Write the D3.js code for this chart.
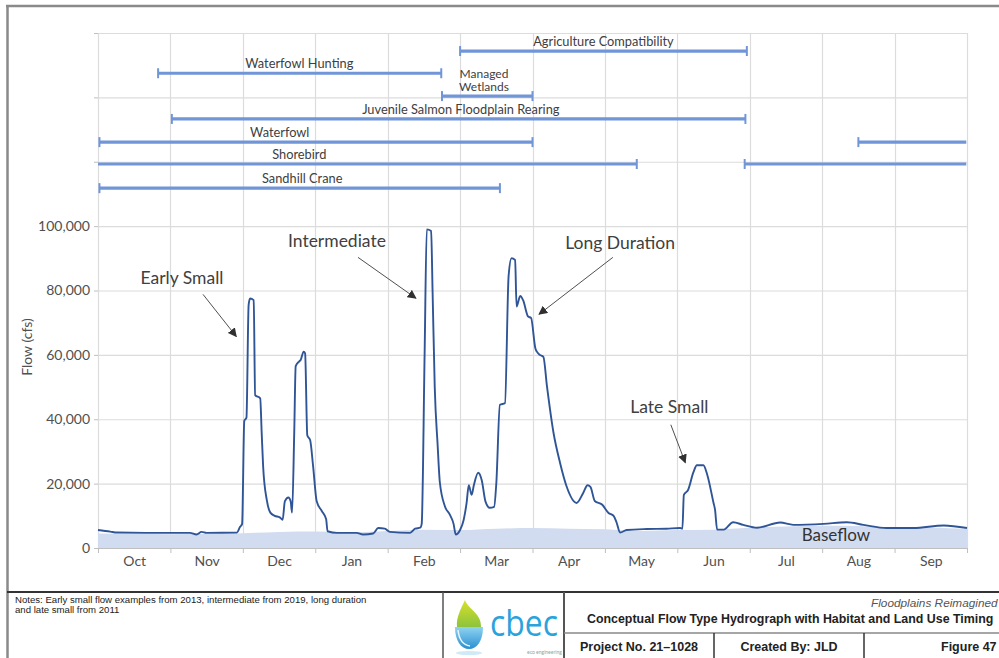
<!DOCTYPE html>
<html><head><meta charset="utf-8">
<script src="https://cdn.jsdelivr.net/npm/d3@7/dist/d3.min.js"></script>
<style>body{margin:0;background:#fff}svg{display:block}</style>
</head><body>
<svg id="c" width="999" height="658"></svg>
<script>
// ---------- data ----------
const months = ["Oct","Nov","Dec","Jan","Feb","Mar","Apr","May","Jun","Jul","Aug","Sep"];
const yTickValues = [0,20000,40000,60000,80000,100000,120000,140000,160000];
const yLabelMax = 100000;

// flow hydrograph (x in months since Oct 1, y in cfs)
const flowMonth = [0.00,0.17,0.26,0.81,1.27,1.36,1.43,1.50,1.92,1.96,1.99,2.02,2.05,2.08,2.10,2.15,2.17,2.24,2.26,2.28,2.33,2.38,2.44,2.51,2.55,2.58,2.63,2.66,2.68,2.71,2.73,2.78,2.80,2.84,2.86,2.89,2.93,2.97,3.02,3.09,3.15,3.17,3.30,3.57,3.66,3.80,3.87,3.96,4.03,4.31,4.38,4.45,4.47,4.51,4.54,4.60,4.62,4.65,4.69,4.72,4.79,4.86,4.91,4.94,5.00,5.05,5.09,5.12,5.16,5.19,5.25,5.30,5.35,5.41,5.47,5.50,5.55,5.62,5.67,5.71,5.76,5.78,5.83,5.87,5.94,5.98,6.04,6.06,6.10,6.15,6.20,6.29,6.38,6.47,6.61,6.70,6.76,6.80,6.86,6.96,7.05,7.12,7.16,7.21,7.30,7.58,7.85,8.04,8.07,8.09,8.15,8.22,8.27,8.36,8.41,8.50,8.52,8.55,8.64,8.77,8.91,9.10,9.42,9.60,10.02,10.34,10.57,10.89,11.26,11.68,12.00];
const flowCfs = [5600,5100,4800,4700,4700,4200,5000,4700,4800,6500,7500,39500,40500,75500,77500,77000,47500,46500,36000,25500,15000,11000,10000,9500,8800,14500,15700,14500,11000,36000,56500,58000,58500,61000,60500,35000,33500,25500,14500,11500,9000,5200,4700,4700,4200,4500,6200,6000,5000,4700,6000,6300,7500,60000,99000,98500,80000,50000,32000,20500,13000,10300,7500,4200,5600,8800,14000,19500,16500,19500,23400,21000,14500,12500,12800,20000,44500,45000,84500,90000,89500,75000,78300,77000,71900,71500,62000,61000,60000,59400,50200,35800,26500,19200,14000,17100,19500,19000,14600,13500,10900,10000,8000,4800,5600,5900,6000,6200,6000,16500,18100,23400,25700,25700,23000,14000,12000,5700,5700,8000,7200,6300,7900,7200,7500,8000,7200,6200,6200,7000,6200];

// baseflow (shaded)
const baseMonth = [0,0.5,1,1.5,2,2.5,3,3.5,4,4.5,5,5.5,6,6.5,7,7.5,8,8.5,9,9.5,10,10.5,11,11.5,12];
const baseCfs = [4500,4400,4300,4400,4600,5000,5100,4900,5300,5700,5600,6000,6200,6000,5800,5300,5600,5700,6300,6700,6900,6800,6100,6300,5900];

// habitat / land use timing segments
const segName  = ["Agriculture Compatibility","Waterfowl Hunting","Managed Wetlands","Juvenile Salmon Floodplain Rearing","Waterfowl","Waterfowl","Shorebird","Shorebird","Sandhill Crane"];
const segStart = [5.00,0.83,4.75,1.02,0.02,10.50,0.00,8.93,0.02];
const segEnd   = [8.96,4.74,6.00,8.94,6.00,11.99,7.44,11.99,5.55];
const segLevel = [154400,147500,140400,133300,126100,126100,119300,119300,111800];
const segCapStart = [true,true,true,true,true,true,false,true,true];
const segCapEnd   = [true,true,true,true,true,false,true,false,true];

const labelText  = ["Agriculture Compatibility","Waterfowl Hunting","Managed|Wetlands","Juvenile Salmon Floodplain Rearing","Waterfowl","Shorebird","Sandhill Crane"];
const labelAt    = [6.98,2.78,5.33,5.01,2.51,2.78,2.82];
const labelLevel = [154400,147500,140400,133300,126100,119300,111800];

// flow-type annotations
const annText  = ["Early Small","Intermediate","Long Duration","Late Small"];
const annAt    = [1.16,3.30,7.21,7.89];
const annFlow  = [82000,93500,92800,42000];
const arrFromM = [1.45,3.59,7.11,7.91];
const arrFromF = [78800,90300,90300,38300];
const arrToM   = [1.91,4.39,6.09,8.11];
const arrToF   = [65700,77600,72600,26500];
const baseflowLabel = {text:"Baseflow", at:10.19, flow:2200};

// ---------- drawing ----------
const svg = d3.select("#c");
const L = 98, R = 967, T = 33, B = 548;
const x = d3.scaleLinear().domain([0,12]).range([L,R]);
const y = d3.scaleLinear().domain([0,160000]).range([B,T]);
const FONT = "Lato, 'Open Sans', sans-serif";

// outer frame
svg.append("line").attr("x1",6).attr("x2",999).attr("y1",6).attr("y2",6).attr("stroke","#8a8a8a").attr("stroke-width",2.5);
svg.append("line").attr("x1",7.5).attr("x2",7.5).attr("y1",5).attr("y2",658).attr("stroke","#8a8a8a").attr("stroke-width",2.5);

// gridlines
const grid = svg.append("g");
grid.selectAll(".hg").data(d3.range(0,160001,20000)).join("line")
  .attr("x1",L).attr("x2",R).attr("y1",d=>y(d)+0.5).attr("y2",d=>y(d)+0.5)
  .attr("stroke","#dcdcdc").attr("stroke-width",1.2);
grid.selectAll(".vg").data(d3.range(0,13)).join("line")
  .attr("x1",d=>Math.round(x(d))+0.5).attr("x2",d=>Math.round(x(d))+0.5).attr("y1",T).attr("y2",B)
  .attr("stroke","#dcdcdc").attr("stroke-width",1.2);

// baseflow area
const area = d3.area().x((d,i)=>x(baseMonth[i])).y0(y(0)).y1((d,i)=>y(baseCfs[i])).curve(d3.curveMonotoneX);
svg.append("path").datum(baseCfs).attr("d",area).attr("fill","#d1dcf0");

// flow line
const line = d3.line().x((d,i)=>x(flowMonth[i])).y((d,i)=>y(flowCfs[i])).curve(d3.curveMonotoneX);
svg.append("path").datum(flowCfs).attr("d",line).attr("fill","none").attr("stroke","#2f5597").attr("stroke-width",1.9).attr("stroke-linejoin","round");

// y axis
const yAxis = d3.axisLeft(y).tickValues(yTickValues).tickSize(4).tickPadding(4)
  .tickFormat(d=> d<=yLabelMax ? d3.format(",")(d) : "");
const gy = svg.append("g").attr("transform",`translate(${L},0)`).call(yAxis);
gy.select(".domain").remove();
gy.selectAll(".tick line").attr("stroke","#bfbfbf");
gy.selectAll(".tick text").attr("fill","#505050").style("font-family",FONT).style("font-size","14px");

// x axis (boundary ticks + month labels)
const gx = svg.append("g").attr("transform",`translate(0,${B})`)
  .call(d3.axisBottom(x).tickValues(d3.range(0,13)).tickSize(5).tickFormat(""));
gx.select(".domain").attr("stroke","#bfbfbf");
gx.selectAll(".tick line").attr("stroke","#bfbfbf");
const gxl = svg.append("g").attr("transform",`translate(0,${B})`)
  .call(d3.axisBottom(x).tickValues(d3.range(12).map(i=>i+0.5)).tickSize(0).tickPadding(8).tickFormat((d,i)=>months[i]));
gxl.select(".domain").remove();
gxl.selectAll(".tick text").attr("fill","#505050").style("font-family",FONT).style("font-size","14px");

// y title
svg.append("text").attr("transform","translate(32,347) rotate(-90)").attr("text-anchor","middle")
  .attr("fill","#505050").style("font-family",FONT).style("font-size","14px").text("Flow (cfs)");

// timing segments
const segs = svg.append("g");
const BAR = "#7096d8";
segName.forEach((n,i)=>{
  const yy = y(segLevel[i]);
  segs.append("line").attr("x1",x(segStart[i])).attr("x2",x(segEnd[i])).attr("y1",yy).attr("y2",yy)
    .attr("stroke",BAR).attr("stroke-width",3.2);
  if(segCapStart[i]) segs.append("line").attr("x1",x(segStart[i])).attr("x2",x(segStart[i])).attr("y1",yy-5).attr("y2",yy+5).attr("stroke",BAR).attr("stroke-width",2);
  if(segCapEnd[i]) segs.append("line").attr("x1",x(segEnd[i])).attr("x2",x(segEnd[i])).attr("y1",yy-5).attr("y2",yy+5).attr("stroke",BAR).attr("stroke-width",2);
});
labelText.forEach((t,i)=>{
  const parts = t.split("|");
  const base = y(labelLevel[i]) - 5;
  parts.forEach((p,j)=>{
    segs.append("text").attr("x",x(labelAt[i])).attr("y",base-(parts.length-1-j)*13.5)
      .attr("text-anchor","middle").attr("fill","#404040")
      .style("font-family",FONT).style("font-size", parts.length>1 ? "12px" : "12.8px").text(p);
  });
});

// annotations
const defs = svg.append("defs");
defs.append("marker").attr("id","ah").attr("viewBox","0 0 10 10").attr("refX",9).attr("refY",5)
  .attr("markerWidth",9).attr("markerHeight",9).attr("markerUnits","userSpaceOnUse").attr("orient","auto")
  .append("path").attr("d","M0,0 L10,5 L0,10 z").attr("fill","#303030");
annText.forEach((t,i)=>{
  svg.append("text").attr("x",x(annAt[i])).attr("y",y(annFlow[i])).attr("text-anchor","middle")
    .attr("fill","#404040").style("font-family",FONT).style("font-size","17.5px").text(t);
  svg.append("line").attr("x1",x(arrFromM[i])).attr("y1",y(arrFromF[i])).attr("x2",x(arrToM[i])).attr("y2",y(arrToF[i]))
    .attr("stroke","#505050").attr("stroke-width",1).attr("marker-end","url(#ah)");
});
svg.append("text").attr("x",x(baseflowLabel.at)).attr("y",y(baseflowLabel.flow)).attr("text-anchor","middle")
  .attr("fill","#333").style("font-family",FONT).style("font-size","17px").text(baseflowLabel.text);

// ---------- footer title block ----------
const f = svg.append("g");
const AR = "'Liberation Sans', Arial, sans-serif";
f.append("line").attr("x1",7).attr("x2",999).attr("y1",592).attr("y2",592).attr("stroke","#333").attr("stroke-width",2);
f.append("line").attr("x1",443).attr("x2",443).attr("y1",592).attr("y2",658).attr("stroke","#555").attr("stroke-width",1.5);
f.append("line").attr("x1",564).attr("x2",564).attr("y1",592).attr("y2",658).attr("stroke","#555").attr("stroke-width",2);
f.append("line").attr("x1",564).attr("x2",999).attr("y1",633).attr("y2",633).attr("stroke","#888").attr("stroke-width",1.5);
f.append("line").attr("x1",714).attr("x2",714).attr("y1",633).attr("y2",658).attr("stroke","#333").attr("stroke-width",1.5);
f.append("line").attr("x1",864).attr("x2",864).attr("y1",633).attr("y2",658).attr("stroke","#333").attr("stroke-width",1.5);

f.append("text").attr("x",15).attr("y",603).attr("fill","#222").style("font-family",AR).style("font-size","9.6px")
  .text("Notes: Early small flow examples from 2013, intermediate from 2019, long duration");
f.append("text").attr("x",15).attr("y",613).attr("fill","#222").style("font-family",AR).style("font-size","9.6px")
  .text("and late small from 2011");

f.append("text").attr("x",871).attr("y",607).attr("fill","#555").style("font-family",AR).style("font-size","11.8px").style("font-style","italic")
  .text("Floodplains Reimagined");
f.append("text").attr("x",587).attr("y",623).attr("fill","#222").style("font-family",AR).style("font-size","12.4px").style("font-weight","bold")
  .text("Conceptual Flow Type Hydrograph with Habitat and Land Use Timing");
f.append("text").attr("x",639).attr("y",651).attr("text-anchor","middle").attr("fill","#222").style("font-family",AR).style("font-size","12.5px").style("font-weight","bold")
  .text("Project No. 21\u20131028");
f.append("text").attr("x",789).attr("y",651).attr("text-anchor","middle").attr("fill","#222").style("font-family",AR).style("font-size","12.5px").style("font-weight","bold")
  .text("Created By: JLD");
f.append("text").attr("x",941).attr("y",651).attr("fill","#222").style("font-family",AR).style("font-size","12.5px").style("font-weight","bold")
  .text("Figure 47");

// logo
const gg = defs.append("linearGradient").attr("id","lg1").attr("x1",0).attr("y1",0).attr("x2",0).attr("y2",1);
gg.append("stop").attr("offset","0").attr("stop-color","#d8e02a");
gg.append("stop").attr("offset","1").attr("stop-color","#8cc43c");
const gb = defs.append("linearGradient").attr("id","lg2").attr("x1",0).attr("y1",0).attr("x2",0).attr("y2",1);
gb.append("stop").attr("offset","0").attr("stop-color","#8fd3f2");
gb.append("stop").attr("offset","1").attr("stop-color","#2a8fd0");
f.append("path").attr("d","M465,600 C468,609 482,614 481,627 L457,627 C456,617 461,609 465,600 Z").attr("fill","url(#lg1)");
f.append("path").attr("d","M455,627 L483,627 C483,641 477,649 469,649 C461,649 455,641 455,627 Z").attr("fill","url(#lg2)");
f.append("path").attr("d","M458,630 C459,640 464,645 470,646").attr("fill","none").attr("stroke","#e8f6fd").attr("stroke-width",1.5);
f.append("ellipse").attr("cx",469).attr("cy",653).attr("rx",13).attr("ry",2).attr("fill","#cfe9f7");
f.append("text").attr("x",490).attr("y",636).attr("fill","#2aa3dc").style("font-family","'Open Sans', sans-serif").style("font-size","36px")
  .attr("textLength",68).attr("lengthAdjust","spacingAndGlyphs").text("cbec");
f.append("text").attr("x",527).attr("y",654).attr("fill","#8aa89a").style("font-family",FONT).style("font-size","5px").text("eco engineering");
</script>
</body></html>
